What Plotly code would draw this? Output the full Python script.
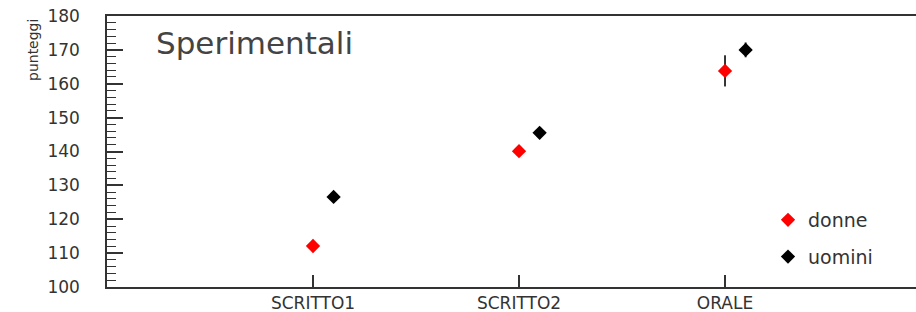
import plotly.graph_objects as go

categories = ["SCRITTO1", "SCRITTO2", "ORALE"]
donne = [112.1, 140.1, 163.8]
donne_err = [1.8, 1.0, 4.6]
uomini = [126.6, 145.5, 170.0]
uomini_err = [1.0, 1.0, 2.2]
y_ticks = [100, 110, 120, 130, 140, 150, 160, 170, 180]

pos = [i + 1 for i in range(len(categories))]
offset = 0.1

fig = go.Figure()
fig.add_trace(go.Scatter(
    x=pos, y=donne, mode="markers", name="donne", legendgroup="d",
    marker=dict(symbol="diamond", size=11, color="#ff0000"),
    error_y=dict(type="data", array=donne_err, color="#333333", thickness=2, width=0),
))
fig.add_trace(go.Scatter(
    x=[p + offset for p in pos], y=uomini, mode="markers", name="uomini", legendgroup="u",
    marker=dict(symbol="diamond", size=11, color="#000000"),
    error_y=dict(type="data", array=uomini_err, color="#333333", thickness=2, width=0),
))

FONT = "DejaVu Sans, Verdana, sans-serif"
ytick_font = dict(family=FONT, size=17, color="#333333")
xtick_font = dict(family=FONT, size=17, color="#333333")

W, H = 916, 312
L, T, B, R = 107, 16, 25, 0
PW, PH = W - L - R, H - T - B


def px(xp):
    return (xp - L) / PW


def py(yp):
    return (H - B - yp) / PH


fig.update_layout(
    width=W, height=H,
    margin=dict(l=L, r=R, t=T, b=B, autoexpand=False),
    paper_bgcolor="white", plot_bgcolor="white",
    showlegend=True,
    legend=dict(x=px(768), y=py(201), xanchor="left", yanchor="top",
                font=dict(family=FONT, size=19, color="#333333"),
                tracegroupgap=9, bgcolor="rgba(0,0,0,0)", itemwidth=30),
    xaxis=dict(
        range=[0, 3.927], tickmode="array", tickvals=pos, ticktext=categories,
        showline=True, linecolor="#333333", linewidth=1.5, mirror=True,
        ticks="inside", ticklen=12, tickwidth=1.5, tickcolor="#333333",
        showgrid=False, zeroline=False, tickfont=xtick_font, automargin=False,
        ticklabeloverflow="allow", ticklabelstandoff=0,
    ),
    yaxis=dict(
        range=[100, 180], tickmode="array", tickvals=y_ticks,
        showline=True, linecolor="#333333", linewidth=1.5, mirror=False,
        ticks="inside", ticklen=16, tickwidth=1.5, tickcolor="#333333",
        minor=dict(dtick=2, ticks="inside", ticklen=9, tickwidth=1.2, tickcolor="#333333", showgrid=False),
        showgrid=False, zeroline=False, tickfont=ytick_font, ticklabelstandoff=22,
        automargin=False, ticklabeloverflow="allow",
    ),
    annotations=[
        dict(text="Sperimentali", xref="paper", yref="paper", x=px(254), y=py(43),
             xanchor="center", yanchor="middle", showarrow=False,
             font=dict(family=FONT, size=31, color="#444444")),
        dict(text="punteggi", xref="paper", yref="paper", x=px(33), y=py(17),
             xanchor="center", yanchor="top", textangle=-90, showarrow=False,
             font=dict(family=FONT, size=14, color="#333333")),
    ],
)

fig.write_html(
    "out.html",
    config={"displayModeBar": False},
    post_script="document.body.style.margin='0';document.body.style.overflow='hidden';",
)
